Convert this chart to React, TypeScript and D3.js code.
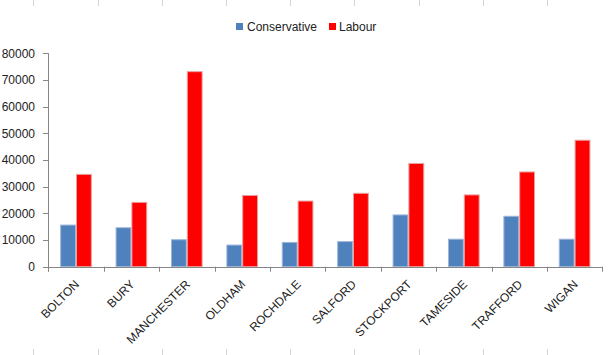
import React from "react";
import * as d3 from "d3";

const categories = ["BOLTON", "BURY", "MANCHESTER", "OLDHAM", "ROCHDALE", "SALFORD", "STOCKPORT", "TAMESIDE", "TRAFFORD", "WIGAN"];
const conservative = [15800, 14800, 10300, 8300, 9300, 9600, 19600, 10500, 19100, 10500];
const labour = [34800, 24300, 73300, 26900, 24800, 27700, 38900, 27100, 35700, 47600];
const seriesNames = ["Conservative", "Labour"];
const seriesColors = ["#4F81BD", "#FF0000"];
const seriesStrokes = ["#9DB7DA", "#E8A0A0"];
const yTicks = [0, 10000, 20000, 30000, 40000, 50000, 60000, 70000, 80000];

const W = 611;
const H = 355;
const left = 48.3;
const right = 602.3;
const top = 53.3;
const bottom = 266.7;
const FONT = "'Liberation Sans', Arial, sans-serif";

export default function App() {
  const x0 = d3.scaleBand<string>().domain(categories).range([left, right]).padding(0);
  const bw = x0.bandwidth();
  const gap = bw * (1.5 / 3.5);
  const x1 = d3.scaleBand<number>().domain([0, 1]).range([gap / 2, bw - gap / 2]).padding(0);
  const y = d3.scaleLinear().domain([0, 80000]).range([bottom, top]);
  const series = [conservative, labour];
  const sheetLines = d3.range(33.3, W, 64.2);
  const catEdges = d3.range(categories.length + 1).map((i) => left + i * bw);

  return (
    <svg width={W} height={H} style={{ position: "absolute", left: 0, top: 0, display: "block", background: "#fff" }}>
      {sheetLines.map((sx, i) => (
        <g key={"s" + i} stroke="#d4d4d4" strokeWidth={1}>
          <line x1={Math.round(sx) + 0.5} x2={Math.round(sx) + 0.5} y1={0} y2={6} />
          <line x1={Math.round(sx) + 0.5} x2={Math.round(sx) + 0.5} y1={349} y2={H} />
        </g>
      ))}
      {/* legend */}
      <g fontFamily={FONT} fontSize={12} fill="#222">
        <rect x={236} y={23} width={7} height={7} fill={seriesColors[0]} />
        <text x={247} y={30.5}>{seriesNames[0]}</text>
        <rect x={329} y={23} width={7} height={7} fill={seriesColors[1]} />
        <text x={339} y={30.5}>{seriesNames[1]}</text>
      </g>
      {/* bars */}
      {categories.map((c, ci) => (
        <g key={c} transform={`translate(${x0(c)},0)`}>
          {series.map((s, si) => (
            <rect
              key={si}
              x={x1(si)! + 0.5}
              y={y(s[ci]) + 0.5}
              width={x1.bandwidth() - 1}
              height={bottom - y(s[ci]) - 0.5}
              fill={seriesColors[si]}
              stroke={seriesStrokes[si]}
              strokeWidth={1}
            />
          ))}
        </g>
      ))}
      {/* y axis */}
      <g stroke="#868686" strokeWidth={1}>
        <line x1={Math.round(left) + 0.5} x2={Math.round(left) + 0.5} y1={top} y2={bottom + 5} />
        {yTicks.map((t) => (
          <line key={t} x1={Math.round(left) - 5} x2={Math.round(left) + 0.5} y1={Math.round(y(t)) + 0.5} y2={Math.round(y(t)) + 0.5} />
        ))}
        <line x1={left} x2={right} y1={Math.round(bottom) + 0.5} y2={Math.round(bottom) + 0.5} />
        {catEdges.map((e, i) => (
          <line key={i} x1={Math.round(e) + 0.5} x2={Math.round(e) + 0.5} y1={bottom} y2={bottom + 5} />
        ))}
      </g>
      <g fontFamily={FONT} fontSize={12} fill="#222">
        {yTicks.map((t) => (
          <text key={t} x={35} y={y(t) + 4.3} textAnchor="end">{t}</text>
        ))}
        {categories.map((c) => {
          const cx = x0(c)! + bw / 2 + 4;
          const cy = 285;
          return (
            <text key={c} x={cx} y={cy} textAnchor="end" transform={`rotate(-45,${cx},${cy})`}>{c}</text>
          );
        })}
      </g>
    </svg>
  );
}
